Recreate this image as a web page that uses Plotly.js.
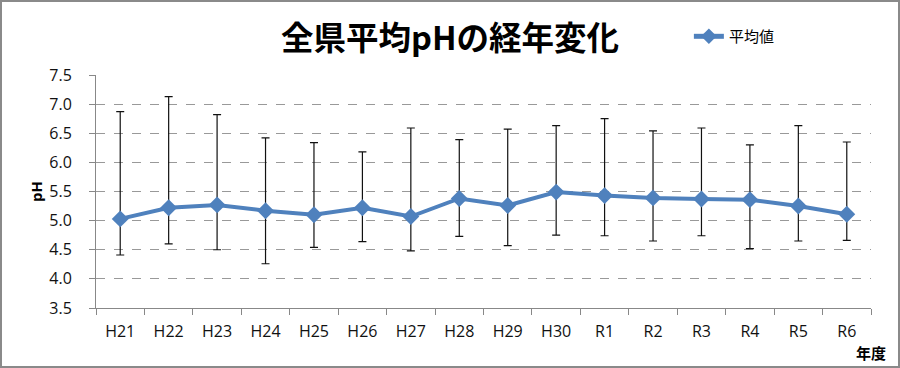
<!DOCTYPE html>
<html><head><meta charset="utf-8">
<script src="https://cdn.plot.ly/plotly-3.0.1.min.js"></script>
<style>
html,body{margin:0;padding:0;background:#fff;}
#wrap{position:relative;width:900px;height:368px;}
#chart{width:900px;height:368px;}
#frame{position:absolute;left:0;top:0;width:900px;height:368px;box-sizing:border-box;border:2px solid #8a8a8a;pointer-events:none;}
</style></head>
<body>
<div id="wrap"><div id="chart"></div><div id="frame"></div></div>
<script>
const years = ["H21","H22","H23","H24","H25","H26","H27","H28","H29","H30","R1","R2","R3","R4","R5","R6"];
const meanPH = [5.03,5.22,5.27,5.17,5.10,5.22,5.07,5.38,5.26,5.49,5.43,5.39,5.37,5.36,5.25,5.11];
const maxPH  = [6.87,7.13,6.82,6.42,6.34,6.18,6.59,6.39,6.57,6.63,6.75,6.54,6.59,6.30,6.63,6.35];
const minPH  = [4.41,4.60,4.50,4.26,4.54,4.64,4.48,4.73,4.57,4.75,4.74,4.65,4.74,4.52,4.65,4.66];
const yTicks = [3.5,4.0,4.5,5.0,5.5,6.0,6.5,7.0,7.5];
const yTickText = ["3.5","4.0","4.5","5.0","5.5","6.0","6.5","7.0","7.5"];

const plus = maxPH.map((v,i)=>v-meanPH[i]);
const minus = meanPH.map((v,i)=>v-minPH[i]);

const sans = '"Open Sans", "Liberation Sans", Arial, sans-serif';
const jp = '"Noto Sans CJK JP", sans-serif';

const trace = {
  x: years, y: meanPH, type: 'scatter', mode: 'lines+markers', name: '平均値',
  line: {color: '#4F81BD', width: 4},
  marker: {symbol: 'diamond', size: 13, color: '#4F81BD', line:{width:0}},
  error_y: {type: 'data', symmetric: false, array: plus, arrayminus: minus,
            color: '#111', thickness: 1.2, width: 4}
};

const layout = {
  width: 900, height: 368,
  margin: {l: 96, r: 29, t: 74.5, b: 59.5},
  paper_bgcolor: '#fff', plot_bgcolor: '#fff',
  title: {text: '<b>全県平均pHの経年変化</b>', font: {family: jp, size: 32.5, color: '#000'},
          x: 0.5, xanchor: 'center', y: 0.895, yanchor: 'middle', yref: 'container'},
  showlegend: true,
  legend: {x: 0.765, y: 1.165, xanchor: 'left', yanchor: 'middle', font: {family: jp, size: 15, color:'#000'},
           bgcolor: 'rgba(0,0,0,0)', itemsizing: 'constant'},
  xaxis: {
    type: 'category', tickson: 'boundaries', ticks: 'outside', ticklen: 6, tickcolor: '#888',
    showline: true, linecolor: '#888', linewidth: 1, showgrid: false,
    tickfont: {family: sans, size: 16, color: '#111'}, ticklabelstandoff: 9,
    range: [-0.5, 15.5]
  },
  yaxis: {
    range: [3.5, 7.5], tickvals: yTicks, ticktext: yTickText, ticks: 'outside', ticklen: 6, tickcolor: '#888',
    showline: true, linecolor: '#888', linewidth: 1,
    showgrid: true, gridcolor: '#999', griddash: 'dash', gridwidth: 1, zeroline: false,
    tickfont: {family: sans, size: 16, color: '#111'}, ticklabelstandoff: 14,
    title: {text: '<b>pH</b>', font: {family: sans, size: 15, color: '#000'}, standoff: 3}
  },
  annotations: [{
    text: '<b>年度</b>', xref: 'paper', yref: 'paper', x: 1.0, y: -0.19, xanchor: 'center', yanchor: 'middle',
    showarrow: false, font: {family: jp, size: 15, color: '#000'}
  }]
};

Plotly.newPlot('chart', [trace], layout, {displayModeBar: false, staticPlot: true});
</script>
</body></html>
